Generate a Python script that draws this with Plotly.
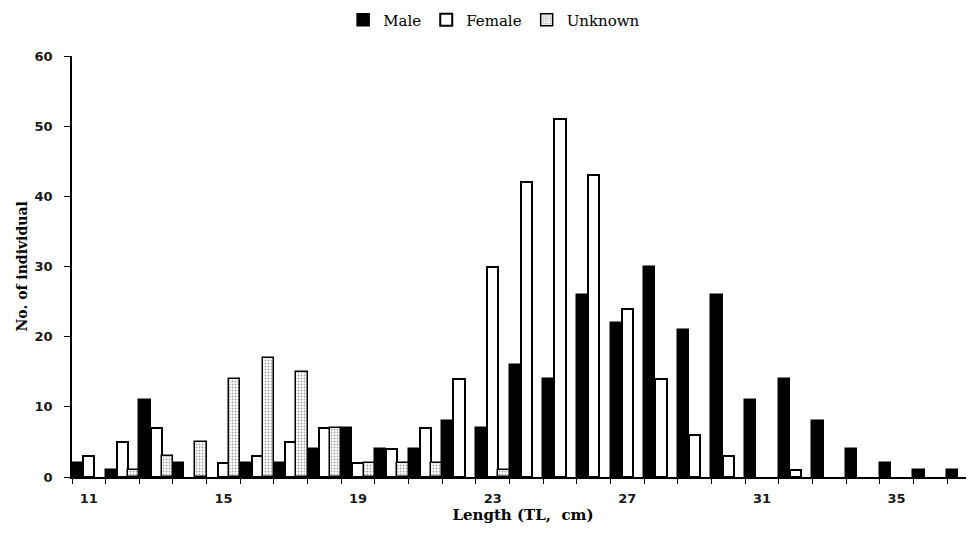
import plotly.graph_objects as go

lengths = list(range(11, 38))
male = [2, 1, 11, 2, 0, 2, 2, 4, 7, 4, 4, 8, 7, 16, 14, 26, 22, 30, 21, 26, 11, 14, 8, 4, 2, 1, 1]
female = [3, 5, 7, 0, 2, 3, 5, 7, 2, 4, 7, 14, 30, 42, 51, 43, 24, 14, 6, 3, 0, 1, 0, 0, 0, 0, 0]
unknown = [0, 1, 3, 5, 14, 17, 15, 7, 2, 2, 2, 0, 1, 0, 0, 0, 0, 0, 0, 0, 0, 0, 0, 0, 0, 0, 0]
tick_labels = [11, 15, 19, 23, 27, 31, 35]


def nz(values):
    return [v if v else None for v in values]


fig = go.Figure()
fig.add_trace(go.Bar(x=lengths, y=nz(male), name="Male",
                     marker=dict(color="black", line=dict(color="black", width=1.5))))
fig.add_trace(go.Bar(x=lengths, y=nz(female), name="Female",
                     marker=dict(color="white", line=dict(color="black", width=2))))
fig.add_trace(go.Bar(x=lengths, y=nz(unknown), name="Unknown",
                     marker=dict(color="white", line=dict(color="black", width=1.5),
                                 pattern=dict(shape=".", fgcolor="#444444", bgcolor="white",
                                              size=3, solidity=0.3))))

boundaries = [v - 0.5 for v in lengths] + [lengths[-1] + 0.5]

fig.update_layout(
    width=966, height=527,
    margin=dict(l=64, r=0, t=48, b=58, autoexpand=False),
    plot_bgcolor="white", paper_bgcolor="white",
    barmode="group", bargap=0, bargroupgap=0,
    showlegend=True,
    legend=dict(orientation="h", x=0.468, xanchor="center", y=1.0855, yanchor="middle",
                font=dict(family="DejaVu Serif", size=15, color="black"),
                itemwidth=30, tracegroupgap=0),
    xaxis=dict(
        range=[10.5, 37.3], showgrid=False, zeroline=False,
        showline=True, linecolor="black", linewidth=1.5,
        tickmode="array", tickvals=tick_labels, ticktext=[str(t) for t in tick_labels],
        ticks="", ticklabelstandoff=9,
        tickfont=dict(family="DejaVu Sans", size=13, color="#1a1a1a", weight="bold"),
        minor=dict(tickmode="array", tickvals=boundaries, ticks="outside", ticklen=5,
                   tickwidth=1.2, tickcolor="black", showgrid=False),
        title=dict(text="Length (TL,  cm)", standoff=3,
                   font=dict(family="DejaVu Serif", size=15, color="black", weight="bold")),
    ),
    yaxis=dict(
        range=[0, 60], dtick=10, showgrid=False, zeroline=False,
        showline=True, linecolor="black", linewidth=1.5,
        ticks="outside", ticklen=6, tickwidth=1.2, tickcolor="black",
        ticklabelstandoff=9,
        tickfont=dict(family="DejaVu Sans", size=13, color="#1a1a1a", weight="bold"),
    ),
    annotations=[dict(
        text="No. of individual", textangle=-90, showarrow=False,
        xref="paper", yref="paper", x=0, y=0.5, xanchor="center", yanchor="middle",
        xshift=-51,
        font=dict(family="DejaVu Serif", size=14, color="black", weight="bold"),
    )],
)

fig.write_html("out.html")
